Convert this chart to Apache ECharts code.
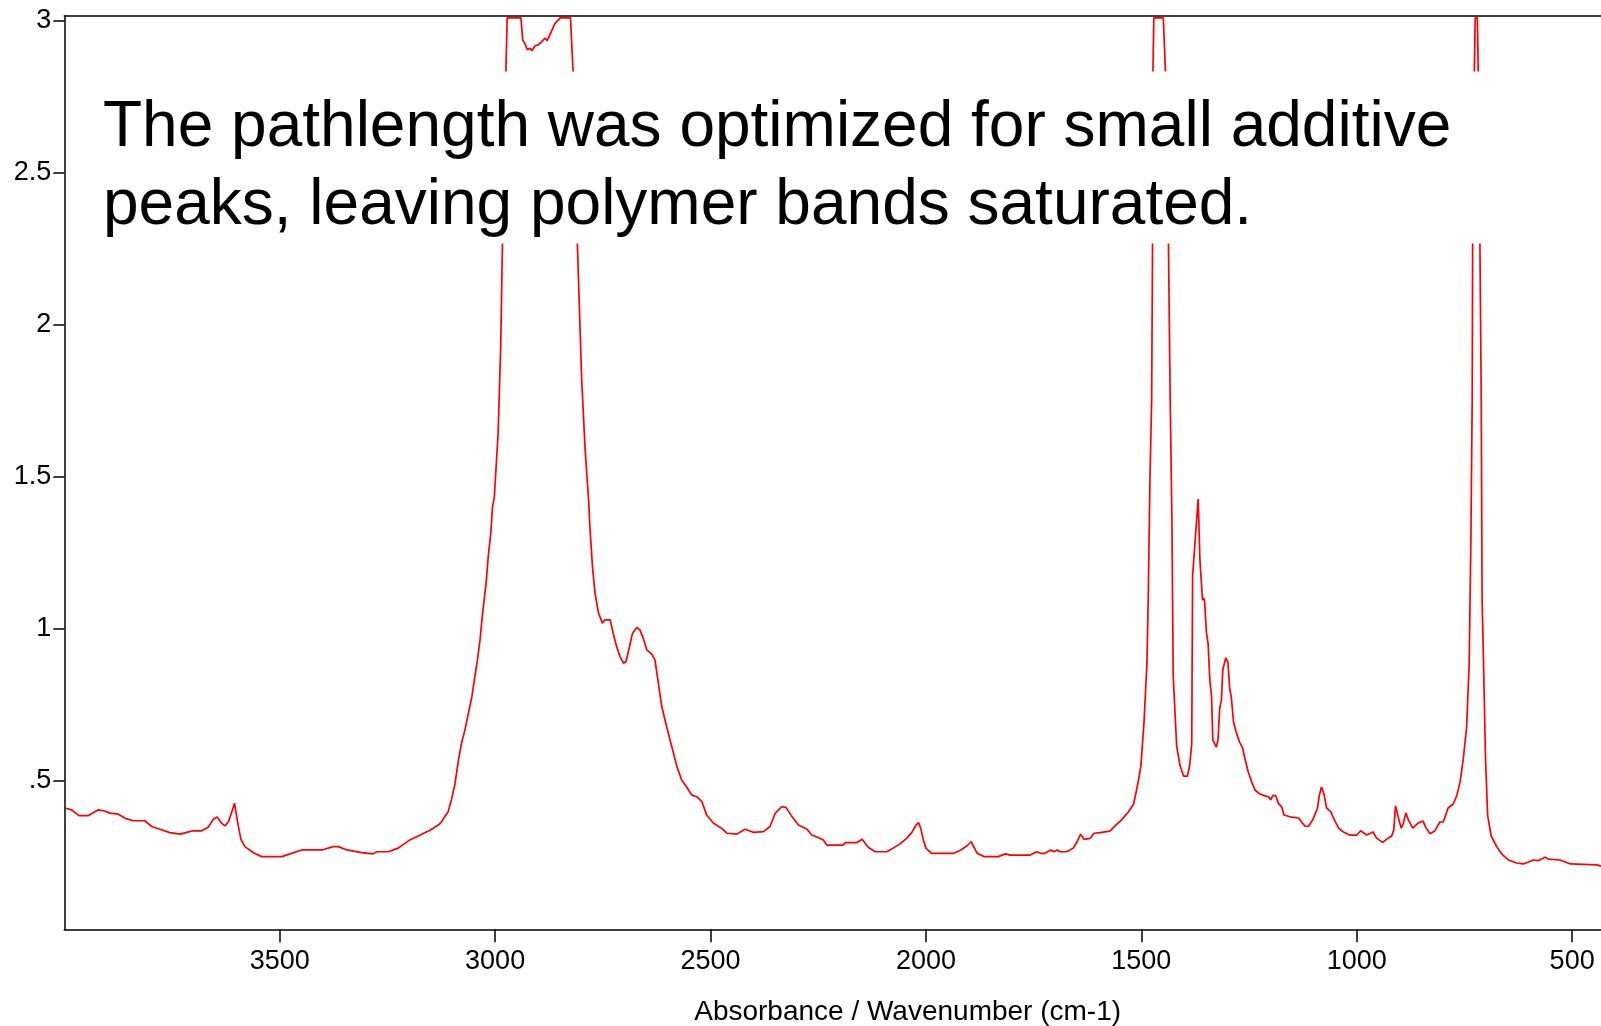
<!DOCTYPE html>
<html><head><meta charset="utf-8">
<script src="https://cdn.jsdelivr.net/npm/echarts@6/dist/echarts.min.js"></script>
<style>html,body{margin:0;padding:0;background:#fff}#c{width:1601px;height:1026px}</style>
</head><body><div id="c"></div>
<script>
// Spectrum data (wavenumber cm-1, absorbance)
const wavenumbers = [
3997,3983,3966,3944,3921,3909,3894,3875,3859,3840,3813,3797,3778,3755,3731,3716,3701,3681,3666,3654,
3645,3635,3627,3619,3611,3605,3601,3598,3590,3581,3561,3542,3495,3476,3449,3402,3376,3364,3344,3310,
3283,3275,3248,3225,3198,3174,3151,3132,3124,3116,3109,3101,3093,3085,3078,3070,3062,3054,3047,3041,
3035,3029,3021,3016,3010,3006,3002,2993,2987,2983,2975,2972,2940,2936,2931,2925,2919,2915,2907,2900,
2892,2884,2879,2873,2867,2861,2849,2825,2819,2809,2799,2791,2783,2780,2774,2768,2760,2751,2745,2733,
2726,2718,2710,2702,2696,2688,2681,2671,2664,2656,2648,2637,2629,2621,2613,2602,2590,2578,2567,2555,
2544,2532,2520,2509,2493,2474,2462,2439,2420,2401,2377,2362,2350,2335,2325,2312,2296,2276,2265,2249,
2238,2230,2192,2188,2161,2148,2134,2118,2091,2076,2060,2045,2033,2023,2017,2012,2006,2000,1987,1936,
1921,1905,1895,1890,1881,1865,1832,1816,1805,1758,1743,1734,1724,1710,1703,1695,1689,1673,1658,1649,
1641,1633,1619,1610,1596,1573,1561,1546,1530,1518,1509,1501,1494,1487,1484,1480,1476,1474,1473,1471,
1449,1444,1437,1433,1429,1426,1418,1410,1402,1393,1388,1383,1381,1375,1368,1364,1358,1355,1353,1349,
1345,1341,1337,1334,1326,1322,1318,1314,1311,1304,1299,1295,1291,1286,1280,1272,1265,1260,1252,1244,
1236,1225,1213,1205,1200,1194,1188,1182,1174,1169,1155,1135,1128,1120,1112,1102,1091,1087,1082,1076,
1070,1060,1054,1042,1031,1016,1000,991,977,962,954,940,927,919,914,910,906,902,897,892,
886,880,870,857,846,840,830,819,807,799,788,776,768,760,753,745,739,735,732,731,
727,725,720,718,714,711,709,706,701,696,688,676,664,648,629,613,590,578,563,555,
528,504,443,433
];
const absorbance = [
0.410,0.405,0.386,0.386,0.405,0.402,0.394,0.391,0.377,0.369,0.369,0.350,0.341,0.330,0.325,0.331,0.336,0.336,0.348,0.374,
0.381,0.361,0.352,0.366,0.399,0.427,0.424,0.366,0.308,0.284,0.264,0.251,0.251,0.260,0.273,0.273,0.284,0.284,0.273,0.264,
0.260,0.267,0.267,0.279,0.306,0.322,0.338,0.355,0.366,0.385,0.399,0.440,0.492,0.569,0.624,0.668,0.723,0.777,0.843,0.898,
0.964,1.052,1.150,1.238,1.315,1.402,1.430,1.644,1.929,2.263,2.833,3.010,3.010,2.937,2.926,2.905,2.910,2.902,2.918,2.921,
2.932,2.943,2.935,2.954,2.973,2.992,3.010,3.010,2.833,2.263,1.819,1.589,1.424,1.336,1.205,1.117,1.052,1.019,1.030,1.030,
0.986,0.942,0.909,0.887,0.893,0.942,0.986,1.005,0.997,0.969,0.931,0.918,0.898,0.821,0.744,0.679,0.613,0.547,0.503,0.479,
0.454,0.448,0.432,0.388,0.361,0.344,0.328,0.325,0.341,0.331,0.333,0.350,0.393,0.415,0.413,0.385,0.355,0.341,0.322,0.313,
0.306,0.289,0.289,0.297,0.297,0.308,0.282,0.267,0.267,0.279,0.293,0.311,0.330,0.355,0.363,0.344,0.306,0.279,0.262,0.262,
0.271,0.286,0.300,0.286,0.262,0.251,0.251,0.260,0.256,0.256,0.267,0.262,0.262,0.273,0.267,0.273,0.267,0.267,0.279,0.300,
0.325,0.308,0.311,0.328,0.330,0.335,0.352,0.372,0.398,0.424,0.484,0.549,0.688,0.885,1.095,1.490,1.753,2.263,2.833,3.010,
3.010,2.833,2.263,1.753,1.359,0.845,0.615,0.549,0.516,0.516,0.549,0.622,1.174,1.293,1.427,1.227,1.095,1.102,1.089,0.990,
0.951,0.832,0.778,0.635,0.611,0.635,0.740,0.766,0.865,0.905,0.891,0.806,0.773,0.694,0.661,0.628,0.609,0.576,0.530,0.497,
0.470,0.457,0.451,0.448,0.438,0.453,0.451,0.427,0.414,0.388,0.382,0.378,0.365,0.351,0.351,0.372,0.411,0.451,0.480,0.457,
0.411,0.398,0.378,0.345,0.332,0.322,0.322,0.336,0.322,0.332,0.312,0.298,0.312,0.319,0.339,0.418,0.424,0.372,0.345,0.359,
0.395,0.372,0.345,0.362,0.368,0.348,0.326,0.335,0.365,0.365,0.411,0.424,0.451,0.497,0.569,0.674,0.885,1.293,1.753,2.263,
2.833,3.010,3.010,2.833,2.263,1.753,1.095,0.911,0.569,0.385,0.319,0.286,0.260,0.240,0.230,0.227,0.240,0.238,0.249,0.243,
0.240,0.227,0.224,0.220
];
const xTickValues = [3500, 3000, 2500, 2000, 1500, 1000, 500];
const yTickValues = [0.5, 1, 1.5, 2, 2.5, 3];
const yTickLabels = ['.5', '1', '1.5', '2', '2.5', '3'];
const xTitle = 'Absorbance / Wavenumber (cm-1)';
const annotationLines = ['The pathlength was optimized for small additive', 'peaks, leaving polymer bands saturated.'];

const FONT = '"Liberation Sans", Arial, Helvetica, sans-serif';
const points = wavenumbers.map((w, i) => [w, absorbance[i]]);

const chart = echarts.init(document.getElementById('c'), null, {renderer: 'canvas'});
chart.setOption({
  animation: false,
  backgroundColor: '#ffffff',
  grid: {left: 64.3, top: 16, right: 0, bottom: 96.7, containLabel: false, outerBoundsMode: 'none'},
  xAxis: [{
    type: 'value', inverse: true, min: 433, max: 4000, position: 'bottom',
    axisLine: {show: true, onZero: false, lineStyle: {color: '#000', width: 1.5}},
    axisTick: {show: true, inside: false, length: 13, lineStyle: {color: '#000', width: 1.5}, customValues: xTickValues},
    axisLabel: {show: true, margin: 19, color: '#000', fontSize: 27, fontFamily: FONT, customValues: xTickValues,
      formatter: function (v) { return String(v); }},
    splitLine: {show: false},
    name: xTitle, nameLocation: 'middle', nameGap: 69,
    nameTextStyle: {color: '#000', fontSize: 28, fontFamily: FONT, padding: [0, 0, 0, 150]}
  }, {
    type: 'value', inverse: true, min: 433, max: 4000, position: 'top',
    axisLine: {show: true, onZero: false, lineStyle: {color: '#000', width: 1.5}},
    axisTick: {show: false}, axisLabel: {show: false}, splitLine: {show: false}
  }],
  yAxis: {
    type: 'value', min: 0.012, max: 3.016,
    axisLine: {show: true, onZero: false, lineStyle: {color: '#000', width: 1.5}},
    axisTick: {show: true, inside: false, length: 11, lineStyle: {color: '#000', width: 1.5}, customValues: yTickValues},
    axisLabel: {show: true, margin: 13, color: '#000', fontSize: 27, fontFamily: FONT, customValues: yTickValues,
      formatter: function (v) {
        const i = yTickValues.findIndex(t => Math.abs(t - v) < 1e-9);
        return i >= 0 ? yTickLabels[i] : '';
      }},
    splitLine: {show: false}
  },
  series: [{
    type: 'line', xAxisIndex: 0, data: points, showSymbol: false, symbol: 'none',
    lineStyle: {color: '#ff0000', width: 1.7}, z: 2, clip: true
  }],
  graphic: [
    {type: 'rect', z: 100, shape: {x: 90, y: 71.5, width: 1405, height: 172}, style: {fill: '#ffffff', stroke: null}},
    {type: 'text', z: 101, x: 103, y: 89,
      style: {text: annotationLines.join('\n'), fill: '#000', fontSize: 64, fontFamily: FONT,
        lineHeight: 78.5, align: 'left', verticalAlign: 'top'}}
  ]
});
</script>
</body></html>
